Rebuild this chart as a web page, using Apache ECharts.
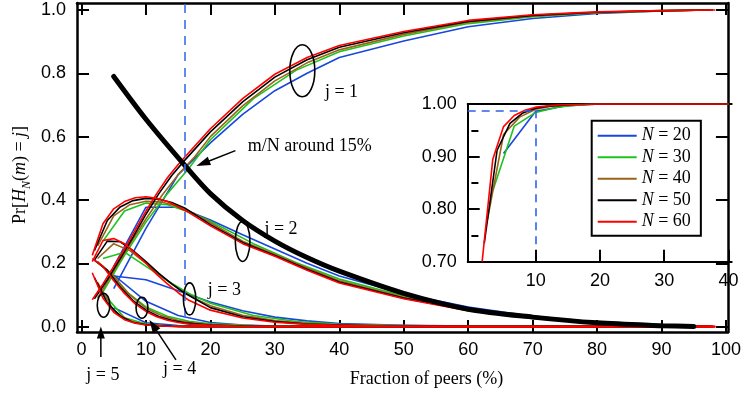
<!DOCTYPE html>
<html>
<head>
<meta charset="utf-8">
<script src="https://cdn.jsdelivr.net/npm/echarts@6/dist/echarts.min.js"></script>
<style>
  html, body { margin: 0; padding: 0; background: #fff; }
  #chart { width: 744px; height: 396px; }
</style>
</head>
<body>
<div id="chart"></div>
<script>
// ---- axis ticks -------------------------------------------------------
const xTicksMain = [0, 10, 20, 30, 40, 50, 60, 70, 80, 90, 100];
const yTicksMain = [0, 0.2, 0.4, 0.6, 0.8, 1.0];
const xTicksInset = [10, 20, 30, 40];
const yTicksInset = [0.7, 0.8, 0.9, 1.0];
const yMinorInset = [0.75, 0.85, 0.95];

// ---- network sizes and their colours ----------------------------------
const peerCounts = [20, 30, 40, 50, 60];
const lineColors = ['#1747dc', '#1cc41c', '#9b6318', '#000000', '#ff0000'];

// ---- fraction of peers m/N (%) at which each family is plotted --------
const xN20 = [5, 10, 15, 20, 25, 30, 35, 40, 50, 60, 70, 80, 90, 95];
const xN30 = [3.33, 6.67, 10, 13.33, 16.67, 20, 26.67, 33.33, 40, 50, 60, 70, 80, 90, 96.67];
const xN40 = [2.5, 5, 7.5, 10, 12.5, 15, 17.5, 20, 25, 30, 35, 40, 50, 60, 70, 80, 90, 97.5];
const xN50 = [2, 4, 6, 8, 10, 12, 14, 16, 20, 25, 30, 35, 40, 50, 60, 70, 80, 90, 98];
const xN60 = [1.67, 3.33, 5, 6.67, 8.33, 10, 11.67, 13.33, 15, 16.67, 20, 25, 30, 35, 40, 50, 60, 70, 80, 90, 98.33];

// ---- Pr[H_N(m) = j], N = 20 -------------------------------------------
const j1N20 = [0.12, 0.31, 0.48, 0.58, 0.67, 0.745, 0.8, 0.85, 0.902, 0.947, 0.973, 0.989, 0.997, 0.999];
const j2N20 = [0.19, 0.377, 0.377, 0.337, 0.29, 0.245, 0.2, 0.16, 0.104, 0.062, 0.033, 0.014, 0.004, 0.001];
const j3N20 = [0.16, 0.148, 0.113, 0.078, 0.05, 0.03, 0.018, 0.01, 0.004, 0.002, 0.001, 0, 0, 0];
const j4N20 = [0.163, 0.08, 0.035, 0.013, 0.005, 0.002, 0.001, 0, 0, 0, 0, 0, 0, 0];
const j5N20 = [0.06, 0.012, 0.003, 0.001, 0, 0, 0, 0, 0, 0, 0, 0, 0, 0];

// ---- N = 30 --------------------------------------------------------------
const j1N30 = [0.11, 0.225, 0.33, 0.42, 0.5, 0.59, 0.72, 0.81, 0.868, 0.918, 0.957, 0.979, 0.991, 0.997, 1.0];
const j2N30 = [0.27, 0.365, 0.39, 0.385, 0.362, 0.333, 0.262, 0.202, 0.15, 0.097, 0.057, 0.03, 0.013, 0.004, 0.0];
const j3N30 = [0.215, 0.235, 0.19, 0.145, 0.105, 0.074, 0.035, 0.016, 0.007, 0.003, 0.001, 0, 0, 0, 0];
const j4N30 = [0.19, 0.115, 0.062, 0.033, 0.017, 0.009, 0.003, 0.001, 0, 0, 0, 0, 0, 0, 0];
const j5N30 = [0.105, 0.028, 0.008, 0.002, 0, 0, 0, 0, 0, 0, 0, 0, 0, 0, 0];

// ---- N = 40 --------------------------------------------------------------
const j1N40 = [0.09, 0.175, 0.26, 0.34, 0.415, 0.48, 0.535, 0.6, 0.697, 0.776, 0.833, 0.874, 0.923, 0.961, 0.981, 0.992, 0.997, 1.0];
const j2N40 = [0.255, 0.35, 0.385, 0.396, 0.393, 0.38, 0.357, 0.328, 0.27, 0.228, 0.185, 0.145, 0.093, 0.054, 0.028, 0.012, 0.003, 0.0];
const j3N40 = [0.215, 0.262, 0.24, 0.2, 0.158, 0.12, 0.09, 0.066, 0.036, 0.019, 0.01, 0.005, 0.002, 0, 0, 0, 0, 0];
const j4N40 = [0.205, 0.16, 0.1, 0.058, 0.034, 0.019, 0.011, 0.006, 0.002, 0.001, 0, 0, 0, 0, 0, 0, 0, 0];
const j5N40 = [0.14, 0.05, 0.017, 0.006, 0.002, 0.001, 0, 0, 0, 0, 0, 0, 0, 0, 0, 0, 0, 0];

// ---- N = 50 --------------------------------------------------------------
const j1N50 = [0.088, 0.148, 0.215, 0.283, 0.355, 0.42, 0.477, 0.525, 0.615, 0.71, 0.788, 0.843, 0.882, 0.928, 0.964, 0.983, 0.993, 0.998, 1.0];
const j2N50 = [0.24, 0.335, 0.378, 0.398, 0.405, 0.402, 0.392, 0.375, 0.322, 0.266, 0.225, 0.181, 0.141, 0.09, 0.052, 0.027, 0.012, 0.003, 0.0];
const j3N50 = [0.21, 0.27, 0.268, 0.24, 0.205, 0.168, 0.135, 0.106, 0.06, 0.031, 0.016, 0.008, 0.005, 0.001, 0, 0, 0, 0, 0];
const j4N50 = [0.21, 0.178, 0.125, 0.082, 0.052, 0.032, 0.02, 0.012, 0.005, 0.002, 0, 0, 0, 0, 0, 0, 0, 0, 0];
const j5N50 = [0.155, 0.075, 0.033, 0.014, 0.006, 0.003, 0.001, 0, 0, 0, 0, 0, 0, 0, 0, 0, 0, 0, 0];

// ---- N = 60 --------------------------------------------------------------
const j1N60 = [0.085, 0.135, 0.19, 0.245, 0.305, 0.365, 0.42, 0.47, 0.512, 0.55, 0.625, 0.72, 0.797, 0.85, 0.888, 0.932, 0.967, 0.985, 0.994, 0.998, 1.0];
const j2N60 = [0.225, 0.325, 0.372, 0.395, 0.407, 0.41, 0.405, 0.395, 0.378, 0.36, 0.318, 0.262, 0.222, 0.178, 0.138, 0.088, 0.05, 0.026, 0.011, 0.003, 0.0];
const j3N60 = [0.205, 0.272, 0.278, 0.262, 0.232, 0.2, 0.165, 0.135, 0.107, 0.083, 0.052, 0.027, 0.014, 0.007, 0.004, 0.001, 0, 0, 0, 0, 0];
const j4N60 = [0.215, 0.19, 0.145, 0.105, 0.072, 0.048, 0.031, 0.02, 0.013, 0.008, 0.004, 0.001, 0, 0, 0, 0, 0, 0, 0, 0, 0];
const j5N60 = [0.17, 0.09, 0.045, 0.022, 0.011, 0.005, 0.003, 0.001, 0, 0, 0, 0, 0, 0, 0, 0, 0, 0, 0, 0, 0];

// ---- heavy curve ----------------------------------------------------------
const xHeavy = [5, 10, 16, 20, 25, 30, 35, 40, 50, 60, 70, 80, 90, 95];
const yHeavy = [0.79, 0.655, 0.51, 0.42, 0.335, 0.27, 0.218, 0.175, 0.105, 0.055, 0.03, 0.012, 0.003, 0.0];

// ---- inset: cumulative probability near the low end ----------------------
const insetX20 = [5, 10, 15, 20, 30, 40];
const insetY20 = [0.906, 0.986, 0.997, 1.0, 1.0, 1.0];
const insetX30 = [3.33, 6.67, 10, 13.33, 16.67, 20, 30, 40];
const insetY30 = [0.835, 0.958, 0.984, 0.994, 0.998, 1.0, 1.0, 1.0];
const insetX40 = [2.5, 5, 7.5, 10, 12.5, 15, 20, 30, 40];
const insetY40 = [0.78, 0.942, 0.975, 0.99, 0.996, 0.998, 1.0, 1.0, 1.0];
const insetX50 = [2, 4, 6, 8, 10, 12, 16, 20, 30, 40];
const insetY50 = [0.735, 0.912, 0.963, 0.983, 0.992, 0.996, 0.999, 1.0, 1.0, 1.0];
const insetX60 = [1.67, 3.33, 5, 6.67, 8.33, 10, 13.33, 16.67, 20, 30, 40];
const insetY60 = [0.70, 0.895, 0.957, 0.978, 0.988, 0.994, 0.998, 0.999, 1.0, 1.0, 1.0];

// ---- reference guides -------------------------------------------------------
const markFraction = 16;        // vertical guide in the main panel (%)
const insetGuideX = 10;         // inset guide (%)
const insetGuideY = 0.988;

const SERIF = '"Liberation Serif", "Times New Roman", serif';
const SANS = '"Liberation Sans", Arial, sans-serif';

const families = [
  { x: xN20, j: [j1N20, j2N20, j3N20, j4N20, j5N20], ix: insetX20, iy: insetY20 },
  { x: xN30, j: [j1N30, j2N30, j3N30, j4N30, j5N30], ix: insetX30, iy: insetY30 },
  { x: xN40, j: [j1N40, j2N40, j3N40, j4N40, j5N40], ix: insetX40, iy: insetY40 },
  { x: xN50, j: [j1N50, j2N50, j3N50, j4N50, j5N50], ix: insetX50, iy: insetY50 },
  { x: xN60, j: [j1N60, j2N60, j3N60, j4N60, j5N60], ix: insetX60, iy: insetY60 }
];
const zip = (xs, ys) => xs.map((v, i) => [v, ys[i]]);
const seriesName = k => 'N = ' + peerCounts[k];

const series = [];
for (let j = 0; j < 5; j++) {
  families.forEach((f, k) => {
    series.push({
      type: 'line', name: seriesName(k), xAxisIndex: 0, yAxisIndex: 0,
      data: zip(f.x, f.j[j]), showSymbol: false, symbol: 'none', smooth: false,
      color: lineColors[k], lineStyle: { width: 1.6, color: lineColors[k], join: 'round' },
      z: 2 + k * 0.01
    });
  });
}
series.push({
  type: 'line', name: 'overall', xAxisIndex: 0, yAxisIndex: 0,
  data: zip(xHeavy, yHeavy), showSymbol: false, symbol: 'none', smooth: 0.3,
  color: '#000', lineStyle: { width: 5, color: '#000', cap: 'round' }, z: 3,
  markLine: {
    silent: true, symbol: 'none', label: { show: false },
    lineStyle: { color: '#3d6fe8', width: 1.6, type: [9, 7] },
    data: [[{ coord: [markFraction, 0.03] }, { coord: [markFraction, 1.022] }]]
  }
});
families.forEach((f, k) => {
  series.push({
    type: 'line', name: seriesName(k), xAxisIndex: 2, yAxisIndex: 2,
    data: zip(f.ix, f.iy), showSymbol: false, symbol: 'none',
    color: lineColors[k], lineStyle: { width: 1.6, color: lineColors[k], join: 'round' },
    z: 2 + k * 0.01,
    markLine: k === 0 ? {
      silent: true, symbol: 'none', label: { show: false },
      lineStyle: { color: '#2f62e8', width: 1.6, type: [8, 6] },
      data: [
        [{ coord: [-0.575, insetGuideY] }, { coord: [insetGuideX, insetGuideY] }],
        [{ coord: [insetGuideX, insetGuideY] }, { coord: [insetGuideX, 0.722] }]
      ]
    } : undefined
  });
});

const frameAxis = (extra) => Object.assign({
  type: 'value', splitLine: { show: false },
  axisLine: { show: true, onZero: false, lineStyle: { color: '#000', width: 2.5 } },
  axisTick: { show: true, inside: true, length: 12, lineStyle: { color: '#000', width: 2 } },
  axisLabel: { show: false }
}, extra);

const option = {
  animation: false,
  backgroundColor: '#fff',
  grid: [
    { left: 77, top: 3, width: 656.5, height: 329 },
    { left: 467.7, top: 104, width: 264, height: 157.7 }
  ],
  xAxis: [
    frameAxis({
      gridIndex: 0, position: 'bottom', min: -0.7, max: 100.3,
      axisTick: { show: true, inside: true, length: 12, customValues: xTicksMain, lineStyle: { color: '#000', width: 2 } },
      axisLabel: { show: true, customValues: xTicksMain, margin: 9, color: '#000', fontFamily: SANS, fontSize: 18 }
    }),
    frameAxis({
      gridIndex: 0, position: 'top', min: -0.7, max: 100.3,
      axisTick: { show: true, inside: true, length: 12, customValues: xTicksMain, lineStyle: { color: '#000', width: 2 } }
    }),
    frameAxis({
      gridIndex: 1, position: 'bottom', min: -0.575, max: 40.5,
      axisLine: { show: true, onZero: false, lineStyle: { color: '#000', width: 2 } },
      axisTick: { show: true, inside: true, length: 12, customValues: xTicksInset, lineStyle: { color: '#000', width: 2 } },
      axisLabel: { show: true, customValues: xTicksInset, margin: 10, color: '#000', fontFamily: SANS, fontSize: 18 }
    }),
    frameAxis({
      gridIndex: 1, position: 'top', min: -0.575, max: 40.5,
      axisLine: { show: true, onZero: false, lineStyle: { color: '#000', width: 2 } },
      axisTick: { show: false }
    })
  ],
  yAxis: [
    frameAxis({
      gridIndex: 0, position: 'left', min: -0.017, max: 1.022,
      axisTick: { show: true, inside: true, length: 12, customValues: yTicksMain, lineStyle: { color: '#000', width: 2 } },
      axisLabel: { show: true, customValues: yTicksMain, margin: 11, color: '#000', fontFamily: SANS, fontSize: 18,
                   formatter: v => v.toFixed(1) }
    }),
    frameAxis({
      gridIndex: 0, position: 'right', min: -0.017, max: 1.022,
      axisTick: { show: true, inside: true, length: 12, customValues: yTicksMain, lineStyle: { color: '#000', width: 2 } }
    }),
    frameAxis({
      gridIndex: 1, position: 'left', min: 0.7, max: 1.0,
      axisLine: { show: true, onZero: false, lineStyle: { color: '#000', width: 2 } },
      axisTick: { show: true, inside: true, length: 12, customValues: yTicksInset, lineStyle: { color: '#000', width: 2 } },
      axisLabel: { show: true, customValues: yTicksInset, margin: 11, color: '#000', fontFamily: SANS, fontSize: 18,
                   formatter: v => v.toFixed(2) }
    }),
    frameAxis({
      gridIndex: 1, position: 'left', offset: 0, min: 0.7, max: 1.0,
      axisLine: { show: false },
      axisTick: { show: true, inside: true, length: 7, customValues: yMinorInset, lineStyle: { color: '#000', width: 2 } }
    })
  ],
  legend: {
    show: true, orient: 'vertical', left: 591.7, top: 120.7,
    data: peerCounts.map((n, k) => seriesName(k)),
    icon: 'rect', itemWidth: 39, itemHeight: 2, itemGap: 3.5,
    padding: [6, 10, 5, 6],
    borderColor: '#000', borderWidth: 2, backgroundColor: '#fff',
    selectedMode: false,
    formatter: name => '{i|N} = ' + name.slice(4),
    textStyle: {
      color: '#000', fontFamily: SERIF, fontSize: 18, lineHeight: 18,
      rich: { i: { fontStyle: 'italic', fontFamily: SERIF, fontSize: 18, lineHeight: 18, color: '#000' } }
    }
  },
  series: series
};

const chart = echarts.init(document.getElementById('chart'), null, { renderer: 'canvas' });
chart.setOption(option);

// ---- annotations placed in data units of the main panel ---------------------
const toPx = pt => chart.convertToPixel({ gridIndex: 0 }, pt);

const rings = [
  { at: [34.26, 0.808], rx: 12.5, ry: 26 },
  { at: [25.0, 0.269], rx: 7.3, ry: 20 },
  { at: [16.77, 0.0875], rx: 6.2, ry: 16 },
  { at: [9.38, 0.0597], rx: 5.9, ry: 10.5 },
  { at: [3.42, 0.0676], rx: 6.3, ry: 12 }
];
const notes = [
  { text: 'j = 1', at: [37.77, 0.741], align: 'left' },
  { text: 'j = 2', at: [28.38, 0.3085], align: 'left' },
  { text: 'j = 3', at: [19.6, 0.1159], align: 'left' },
  { text: 'j = 4', at: [15.23, -0.1336], align: 'center' },
  { text: 'j = 5', at: [3.31, -0.1525], align: 'center' },
  { text: 'm/N around 15%', at: [25.8, 0.5706], align: 'left' }
];
const pointers = [
  { from: [23.88, 0.5557], to: [17.82, 0.5074], head: 14, half: 4.5 },
  { from: [14.65, -0.105], to: [10.54, 0.0212], head: 13, half: 4.5 },
  { from: [3.0, -0.0957], to: [3.0, 0.0], head: 12, half: 4 }
];

const elements = [];
rings.forEach(r => {
  const c = toPx(r.at);
  elements.push({ type: 'ellipse', z: 20, silent: true,
    shape: { cx: c[0], cy: c[1], rx: r.rx, ry: r.ry },
    style: { fill: null, stroke: '#000', lineWidth: 1.6 } });
});
notes.forEach(n => {
  const p = toPx(n.at);
  elements.push({ type: 'text', z: 1, silent: true, x: p[0], y: p[1],
    style: { text: n.text, fill: '#000', font: '18px ' + SERIF, align: n.align, verticalAlign: 'middle' } });
});
pointers.forEach(a => {
  const s = toPx(a.from), t = toPx(a.to);
  const dx = t[0] - s[0], dy = t[1] - s[1], L = Math.hypot(dx, dy);
  const ux = dx / L, uy = dy / L;
  const bx = t[0] - ux * a.head, by = t[1] - uy * a.head;
  elements.push({ type: 'line', z: 20, silent: true,
    shape: { x1: s[0], y1: s[1], x2: bx + ux, y2: by + uy },
    style: { stroke: '#000', lineWidth: 1.5 } });
  elements.push({ type: 'polygon', z: 20, silent: true,
    shape: { points: [[t[0], t[1]], [bx - uy * a.half, by + ux * a.half], [bx + uy * a.half, by - ux * a.half]] },
    style: { fill: '#000' } });
});

// axis titles
elements.push({ type: 'text', z: 20, silent: true, x: 426.5, y: 379.5,
  style: { text: 'Fraction of peers (%)', fill: '#000', font: '18px ' + SERIF, align: 'center', verticalAlign: 'middle' } });
elements.push({ type: 'text', z: 20, silent: true, x: 20, y: 175, rotation: Math.PI / 2,
  style: {
    text: 'Pr[{i|H}{sub|N}({i|m}) = {i|j}]',
    fill: '#000', fontFamily: SERIF, fontSize: 18, align: 'center', verticalAlign: 'middle',
    rich: {
      i: { fontStyle: 'italic', fontFamily: SERIF, fontSize: 18, lineHeight: 18, fill: '#000' },
      sub: { fontStyle: 'italic', fontFamily: SERIF, fontSize: 12, lineHeight: 26, verticalAlign: 'bottom', fill: '#000' }
    }
  } });

chart.setOption({ graphic: { elements: elements } });
</script>
</body>
</html>
